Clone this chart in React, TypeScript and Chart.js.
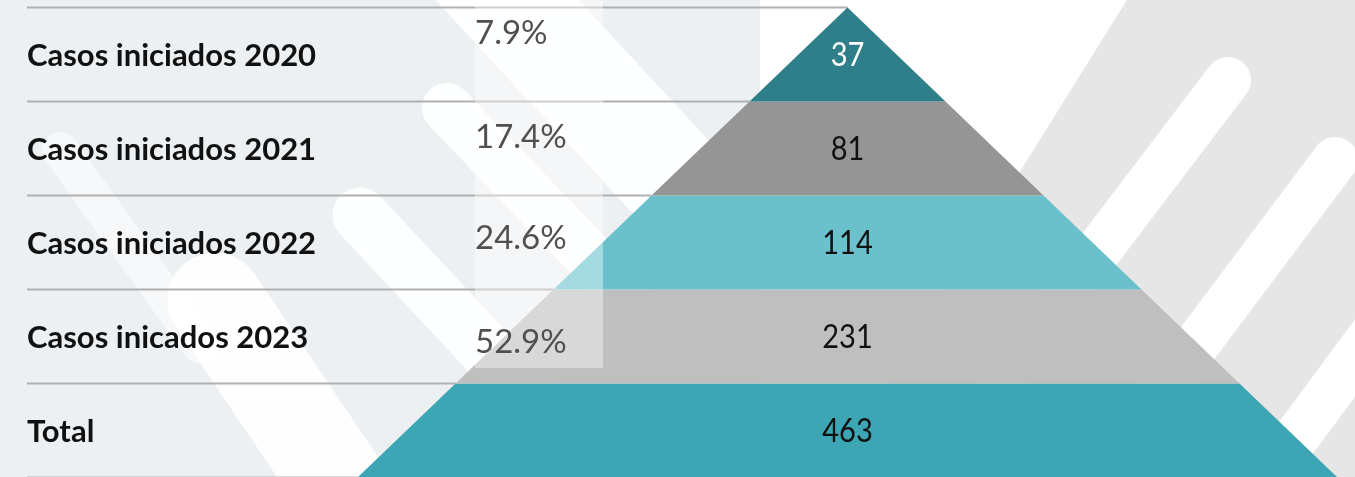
import React, { useEffect, useRef } from "react";
import { Chart, registerables } from "chart.js";

Chart.register(...registerables);

// ---- data ----
const categories = [
  "Casos iniciados 2020",
  "Casos iniciados 2021",
  "Casos iniciados 2022",
  "Casos inicados 2023",
  "Total",
];
const values = [37, 81, 114, 231, 463];
const percentLabels = ["7.9%", "17.4%", "24.6%", "52.9%"];

// ---- styles ----
const bandColors = ["#2E7F8A", "#959595", "#6AC1CC", "#BFBFBF", "#3CA6B4"];
const valueColors = ["#ffffff", "#111111", "#111111", "#111111", "#111111"];
const pctRows = [0.272, 1.378, 2.452, 3.559];

const W = 1355;
const H = 477;

function stripe(ctx: CanvasRenderingContext2D, x1: number, y1: number, x2: number, y2: number, w: number, color: string) {
  ctx.strokeStyle = color;
  ctx.lineWidth = w;
  ctx.lineCap = "round";
  ctx.beginPath();
  ctx.moveTo(x1, y1);
  ctx.lineTo(x2, y2);
  ctx.stroke();
}

const decorPlugin = {
  id: "decor",
  beforeDraw(chart: any) {
    const ctx = chart.ctx as CanvasRenderingContext2D;
    ctx.save();
    ctx.fillStyle = "#edf0f2";
    ctx.fillRect(0, 0, W, H);
    // soft white diagonal bands on the left
    stripe(ctx, 60, 150, 200, 345, 36, "rgba(255,255,255,0.55)");
    stripe(ctx, 215, 300, 370, 530, 95, "rgba(255,255,255,0.9)");
    stripe(ctx, 360, 215, 570, 440, 55, "rgba(255,255,255,0.95)");
    stripe(ctx, 447, 108, 650, 320, 50, "rgba(255,255,255,0.95)");
    stripe(ctx, 470, -40, 720, 230, 105, "rgba(255,255,255,0.95)");
    // white area around apex
    ctx.fillStyle = "#ffffff";
    ctx.beginPath();
    ctx.moveTo(760, 0);
    ctx.lineTo(1127, 0);
    ctx.lineTo(830, H);
    ctx.lineTo(760, H);
    ctx.closePath();
    ctx.fill();
    // right gray region
    ctx.fillStyle = "#e6e6e6";
    ctx.beginPath();
    ctx.moveTo(1127, 0);
    ctx.lineTo(W, 0);
    ctx.lineTo(W, H);
    ctx.lineTo(830, H);
    ctx.closePath();
    ctx.fill();
    stripe(ctx, 1228, 80, 1000, 380, 46, "#ffffff");
    stripe(ctx, 1335, 160, 1080, 500, 46, "#ffffff");
    stripe(ctx, 1420, 270, 1250, 500, 46, "#ffffff");
    ctx.restore();
  },
  beforeDatasetsDraw(chart: any) {
    const ctx = chart.ctx as CanvasRenderingContext2D;
    const xs = chart.scales.x;
    const ys = chart.scales.y;
    ctx.save();
    ctx.strokeStyle = "#b0b0b0";
    ctx.lineWidth = 2;
    for (let j = 0; j <= categories.length; j++) {
      const y = Math.round(ys.getPixelForValue(j)) - 0.5;
      ctx.beginPath();
      ctx.moveTo(27, y);
      ctx.lineTo(xs.getPixelForValue(-j), y);
      ctx.stroke();
    }
    ctx.restore();
  },
  afterDatasetsDraw(chart: any) {
    const ctx = chart.ctx as CanvasRenderingContext2D;
    const xs = chart.scales.x;
    const ys = chart.scales.y;
    ctx.save();
    // translucent white panel behind percentages
    ctx.fillStyle = "rgba(255,255,255,0.4)";
    ctx.fillRect(475, 0, 128, 368);

    // category labels
    ctx.textBaseline = "middle";
    ctx.textAlign = "left";
    ctx.fillStyle = "#111111";
    ctx.font = "bold 31px Lato";
    categories.forEach((c, i) => {
      ctx.fillText(c, 27, ys.getPixelForValue(i + 0.5) + 1);
    });

    // percentages
    ctx.fillStyle = "#505050";
    ctx.font = "33px Lato";
    percentLabels.forEach((p, i) => {
      ctx.fillText(p, 475, ys.getPixelForValue(pctRows[i]));
    });

    // values (slightly condensed)
    ctx.textAlign = "center";
    ctx.font = "33px Lato";
    values.forEach((v, i) => {
      const cx = xs.getPixelForValue(0);
      const cy = ys.getPixelForValue(i + 0.5) + 1;
      ctx.save();
      ctx.translate(cx, cy);
      ctx.scale(0.88, 1);
      ctx.fillStyle = valueColors[i];
      ctx.fillText(String(v), 0, 0);
      ctx.restore();
    });
    ctx.restore();
  },
};

export default function App() {
  const ref = useRef<HTMLCanvasElement | null>(null);
  useEffect(() => {
    if (!ref.current) return;
    document.body.style.margin = "0";
    const datasets = categories.map((c, i) => ({
      label: c,
      data: [
        { x: -i, y: i },
        { x: i, y: i },
        { x: i + 1, y: i + 1 },
        { x: -(i + 1), y: i + 1 },
      ],
      fill: "shape",
      backgroundColor: bandColors[i],
      borderWidth: 0,
      borderColor: "rgba(0,0,0,0)",
      pointRadius: 0,
      tension: 0,
    }));
    const chart = new Chart(ref.current, {
      type: "line",
      data: { datasets } as any,
      options: {
        animation: false,
        responsive: false,
        events: [],
        layout: { padding: 0 },
        plugins: { legend: { display: false }, tooltip: { enabled: false } },
        scales: {
          x: { type: "linear", min: -847.5 / 98, max: (W - 847.5) / 98, display: false },
          y: { type: "linear", min: -7.5 / 94, max: (H - 7.5) / 94, reverse: true, display: false },
        },
      } as any,
      plugins: [decorPlugin],
    });
    return () => chart.destroy();
  }, []);
  return (
    <div style={{ position: "absolute", left: 0, top: 0, width: W, height: H }}>
      <canvas ref={ref} width={W} height={H} />
    </div>
  );
}
